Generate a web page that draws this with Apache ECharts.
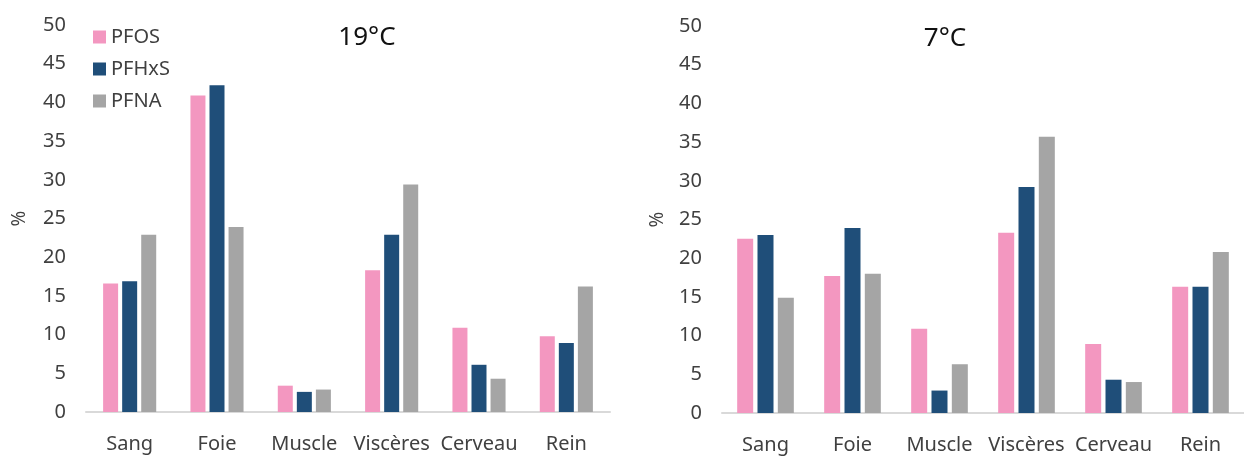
<!DOCTYPE html>
<html>
<head>
<meta charset="utf-8">
<script src="https://cdn.jsdelivr.net/npm/echarts@6/dist/echarts.min.js"></script>
<style>
html,body{margin:0;padding:0;background:#fff;}
#c{width:1244px;height:457px;}
</style>
</head>
<body>
<div id="c"></div>
<script>
const categories = ['Sang', 'Foie', 'Muscle', 'Viscères', 'Cerveau', 'Rein'];
const seriesNames = ['PFOS', 'PFHxS', 'PFNA'];
const titles = ['19°C', '7°C'];
// 19°C
const pfos19  = [16.6, 40.9, 3.4, 18.3, 10.9, 9.8];
const pfhxs19 = [16.9, 42.2, 2.6, 22.9, 6.1, 8.9];
const pfna19  = [22.9, 23.9, 2.9, 29.4, 4.3, 16.2];
// 7°C
const pfos7  = [22.5, 17.7, 10.9, 23.3, 8.9, 16.3];
const pfhxs7 = [23.0, 23.9, 2.9, 29.2, 4.3, 16.3];
const pfna7  = [14.9, 18.0, 6.3, 35.7, 4.0, 20.8];
const yTicks = { min: 0, max: 50, interval: 5 };

const colors = ['#F397C0', '#1F4E79', '#A5A5A5'];
const font = 'Noto Sans';
const txt = '#404040';

const chart = echarts.init(document.getElementById('c'));

function xAx(gi) {
  return {
    type: 'category', gridIndex: gi, data: categories,
    axisLine: { lineStyle: { color: '#D9D9D9', width: 2 } },
    axisTick: { show: false },
    axisLabel: { color: txt, fontFamily: font, fontSize: 20, margin: 22, interval: 0 }
  };
}
function yAx(gi, gap) {
  return {
    type: 'value', gridIndex: gi, min: yTicks.min, max: yTicks.max, interval: yTicks.interval,
    name: '%', nameLocation: 'middle', nameGap: gap,
    nameTextStyle: { color: txt, fontFamily: font, fontSize: 19 },
    axisLine: { show: false }, axisTick: { show: false }, splitLine: { show: false },
    axisLabel: { color: txt, fontFamily: font, fontSize: 20, margin: 20 }
  };
}
function bar(name, data, idx, gi, w) {
  return {
    type: 'bar', name: name, data: data, xAxisIndex: gi, yAxisIndex: gi,
    barWidth: w, barGap: '27%',
    itemStyle: { color: colors[idx] }
  };
}

chart.setOption({
  animation: false,
  color: colors,
  title: [
    { text: titles[0], left: 362, top: 20, textAlign: 'center',
      textStyle: { color: '#111', fontFamily: font, fontSize: 26, fontWeight: 'normal' } },
    { text: titles[1], left: 940, top: 21, textAlign: 'center',
      textStyle: { color: '#111', fontFamily: font, fontSize: 26, fontWeight: 'normal' } }
  ],
  legend: {
    data: seriesNames, orient: 'vertical', left: 88, top: 22,
    itemWidth: 13, itemHeight: 13, itemGap: 12,
    icon: 'rect',
    textStyle: { color: txt, fontFamily: font, fontSize: 20, lineHeight: 20 }
  },
  grid: [
    { left: 86, right: 634, top: 25, bottom: 45 },
    { left: 722, right: -18, top: 26, bottom: 44 }
  ],
  xAxis: [xAx(0), xAx(1)],
  yAxis: [yAx(0, 57), yAx(1, 55)],
  series: [
    bar(seriesNames[0], pfos19, 0, 0, 15),
    bar(seriesNames[1], pfhxs19, 1, 0, 15),
    bar(seriesNames[2], pfna19, 2, 0, 15),
    bar(seriesNames[0], pfos7, 0, 1, 16),
    bar(seriesNames[1], pfhxs7, 1, 1, 16),
    bar(seriesNames[2], pfna7, 2, 1, 16)
  ]
});
</script>
</body>
</html>
